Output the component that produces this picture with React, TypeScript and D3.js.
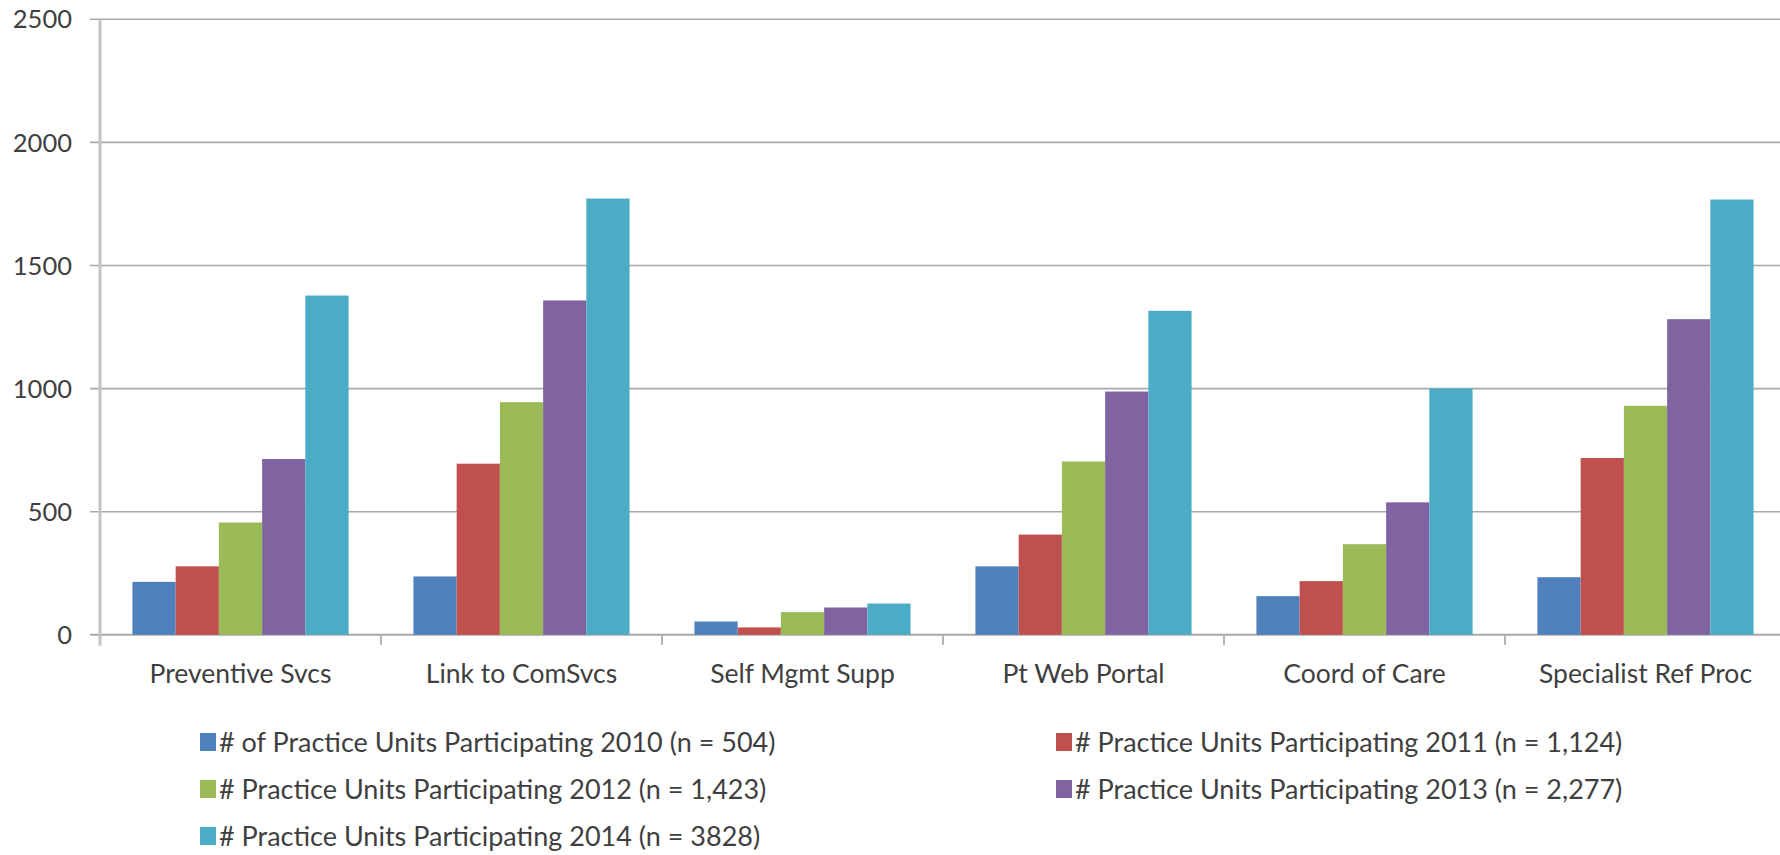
import React from "react";
import * as d3 from "d3";

const categories = [
  "Preventive Svcs",
  "Link to ComSvcs",
  "Self Mgmt Supp",
  "Pt Web Portal",
  "Coord of Care",
  "Specialist Ref Proc",
];

const seriesNames = [
  "# of Practice Units Participating 2010 (n = 504)",
  "# Practice Units Participating 2011 (n = 1,124)",
  "# Practice Units Participating 2012 (n = 1,423)",
  "# Practice Units Participating 2013 (n = 2,277)",
  "# Practice Units Participating 2014 (n = 3828)",
];

const values2010 = [215, 237, 54, 278, 157, 234];
const values2011 = [278, 695, 30, 407, 218, 718];
const values2012 = [456, 945, 92, 704, 368, 930];
const values2013 = [714, 1358, 111, 988, 538, 1282];
const values2014 = [1378, 1772, 127, 1316, 1000, 1768];

const seriesValues = [values2010, values2011, values2012, values2013, values2014];

const yTicks = [0, 500, 1000, 1500, 2000, 2500];

const colors = ["#4f81bd", "#c0504d", "#9bbb59", "#8064a2", "#4bacc6"];

const W = 1780;
const H = 855;
const FONT = "Lato, 'Open Sans', sans-serif";
const TEXT = "#3f3f3f";

export default function App() {
  const left = 100;
  const step = 281;
  const right = left + step * categories.length;
  const y = d3.scaleLinear().domain([0, 2500]).range([634.8, 19.3]);

  const x = d3
    .scaleBand<string>()
    .domain(categories)
    .range([left, right])
    .paddingInner(1.5 / 6.5)
    .paddingOuter(0.75 / 6.5);

  const xs = d3
    .scaleBand<number>()
    .domain(d3.range(seriesNames.length))
    .range([0, x.bandwidth()]);

  const y0 = y(0);

  const legendCols = [200, 1056];
  const legendRows = [742, 789, 836];

  return (
    <div style={{ position: "absolute", left: 0, top: 0 }}>
      <svg width={W} height={H} style={{ display: "block", background: "#fff" }}>
        {/* gridlines */}
        {yTicks.map((t) => (
          <line
            key={"g" + t}
            x1={left - 10}
            x2={W}
            y1={y(t)}
            y2={y(t)}
            stroke="#a9a9a9"
            strokeWidth={t === 0 ? 2 : 1.6}
          />
        ))}
        {/* value axis */}
        <line x1={left} x2={left} y1={y(2500)} y2={y0 + 11} stroke="#c4c4c4" strokeWidth={3} />
        {/* category ticks */}
        {d3.range(1, categories.length + 1).map((i) => (
          <line
            key={"t" + i}
            x1={left + i * step}
            x2={left + i * step}
            y1={y0}
            y2={y0 + 10}
            stroke="#b5b5b5"
            strokeWidth={2}
          />
        ))}
        {/* y tick labels */}
        {yTicks.map((t) => (
          <text
            key={"l" + t}
            x={72}
            y={y(t)}
            dy="0.36em"
            textAnchor="end"
            fontFamily={FONT}
            fontSize={25.5}
            fill={TEXT}
          >
            {t}
          </text>
        ))}
        {/* bars */}
        {categories.map((c, ci) => (
          <g key={c} transform={`translate(${x(c)},0)`}>
            {seriesValues.map((vals, si) => (
              <rect
                key={si}
                x={xs(si)}
                y={y(vals[ci])}
                width={xs.bandwidth()}
                height={y0 - y(vals[ci])}
                fill={colors[si]}
              />
            ))}
          </g>
        ))}
        {/* category labels */}
        {categories.map((c) => (
          <text
            key={"c" + c}
            x={(x(c) as number) + x.bandwidth() / 2}
            y={683}
            textAnchor="middle"
            fontFamily={FONT}
            fontSize={26.5}
            fill={TEXT}
          >
            {c}
          </text>
        ))}
        {/* legend */}
        {seriesNames.map((name, i) => {
          const lx = legendCols[i % 2];
          const ly = legendRows[Math.floor(i / 2)];
          return (
            <g key={name}>
              <rect x={lx} y={ly - 9} width={16} height={18} fill={colors[i]} />
              <text
                x={lx + 19}
                y={ly}
                dy="0.36em"
                fontFamily={FONT}
                fontSize={27}
                fill={TEXT}
              >
                {name}
              </text>
            </g>
          );
        })}
      </svg>
    </div>
  );
}
